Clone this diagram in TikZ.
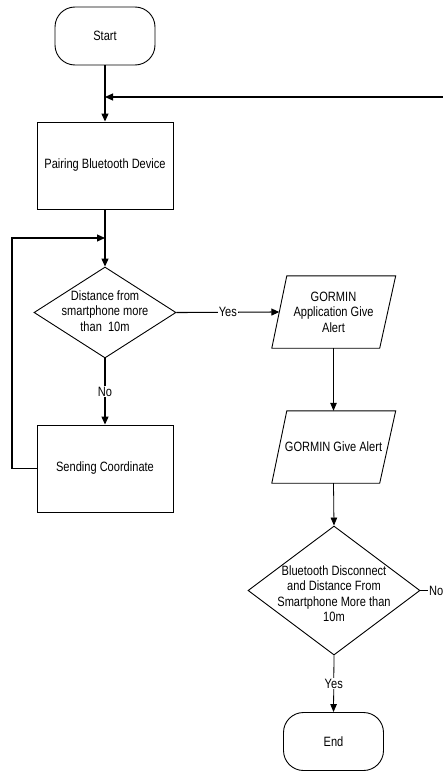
\documentclass[tikz,border=0pt]{standalone}
\usepackage{fontspec}
\setmainfont{Liberation Sans}[FakeStretch=0.82]
\usetikzlibrary{arrows.meta,shapes.geometric}
\begin{document}
\begin{tikzpicture}[x=1pt,y=-1pt,
  fnt/.style={font=\fontsize{13.5}{15.5}\selectfont},
  base/.style={fnt, draw=black, line width=0.9pt, align=center, inner sep=0pt},
  term/.style={base, rounded corners=20pt, minimum width=100pt, minimum height=58pt},
  proc/.style={base, minimum width=136pt, minimum height=87pt},
  dec/.style={draw=black, line width=0.9pt, diamond, inner sep=0pt},
  io/.style={fnt, align=center, inner sep=0pt, minimum width=108pt, minimum height=72pt},
  outline/.style={draw=black, line width=0.9pt},
  txt/.style={fnt, align=center, inner sep=0pt},
  conn/.style={line width=1.1pt, -{Triangle[length=8pt,width=7pt]}},
  thinconn/.style={line width=0.8pt, -{Triangle[length=8pt,width=6.5pt]}},
  lbl/.style={fnt, fill=white, inner sep=1pt}
]
\useasboundingbox (0,0) rectangle (443,771);
\clip (0,0) rectangle (443,771);

% nodes
\node[term] (start) at (105,36) {Start};
\node[proc] (pair) at (105,165.5) {Pairing Bluetooth Device};
\node[dec, minimum width=142pt, minimum height=91pt] (d1) at (105,312.5) {};
\node[txt] (d1t) at ([yshift=1.5pt]d1.center) {Distance from\\smartphone more\\than\ \ 10m};
\node[proc] (send) at (105,468.5) {Sending Coordinate};

\node[io] (p1) at (333.5,312) {GORMIN\\Application Give\\Alert};
\draw[outline] ([xshift=7.5pt]p1.north west) -- ([xshift=8pt]p1.north east)
  -- ([xshift=-8pt]p1.south east) -- ([xshift=-7.5pt]p1.south west) -- cycle;
\node[io] (p2) at (333.5,447) {GORMIN Give Alert};
\draw[outline] ([xshift=7.5pt]p2.north west) -- ([xshift=8pt]p2.north east)
  -- ([xshift=-8pt]p2.south east) -- ([xshift=-7.5pt]p2.south west) -- cycle;

\node[dec, minimum width=172pt, minimum height=129pt] (d2) at (334,590.5) {};
\node[txt] (d2t) at ([yshift=-3pt]d2.center) {Bluetooth Disconnect\\and Distance From\\Smartphone More than\\10m};
\node[term] (end) at (333.5,741.5) {End};

\coordinate (j1) at (105,97);
\coordinate (j2) at (105,238);

% connectors
\draw[conn] (start) -- (pair);
\draw[conn] (pair) -- (d1);
\draw[conn] (d1) -- node[lbl]{No} (send);
\draw[conn] (send.west) -- (12,468.5) |- (j2);
\draw[conn] (d1.east) -- node[lbl]{Yes} (p1.west);
\draw[thinconn] (p1.south) -- (p2.north);
\draw[thinconn] (p2.south) -- (d2.north);
\draw[thinconn] (d2.south) -- node[lbl]{Yes} (end.north);
\draw[conn] (d2.east) -- node[lbl]{No} (452,590.5) |- (j1);
\end{tikzpicture}
\end{document}
